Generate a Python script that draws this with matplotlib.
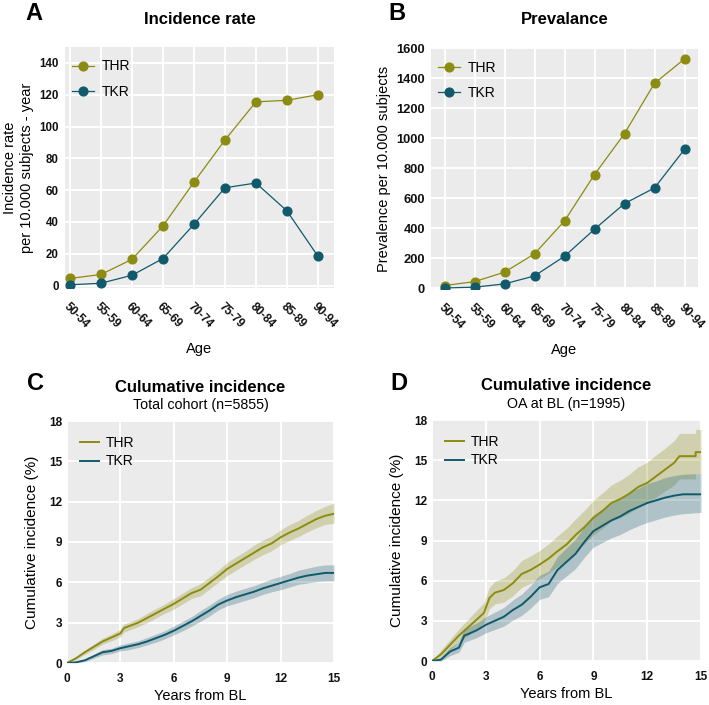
import matplotlib
matplotlib.use("Agg")
import matplotlib.pyplot as plt

plt.rcParams['font.family'] = ['Liberation Sans', 'DejaVu Sans']

# colours
thr_col = '#8c8c12'
tkr_col = '#115a6c'
bg = '#ebebeb'

# panel A / B data
ages = ["50-54", "55-59", "60-64", "65-69", "70-74", "75-79", "80-84", "85-89", "90-94"]
thr_rate = [4.5, 7, 16.5, 37.5, 65, 91.5, 115.5, 116.5, 120]
tkr_rate = [0.5, 1.5, 6.5, 17, 38.5, 61.5, 64.5, 47, 18.5]
thr_prev = [18, 44, 107, 229, 448, 757, 1030, 1365, 1527]
tkr_prev = [2, 7, 29, 82, 213, 393, 564, 668, 925]

# panel C - total cohort
c_thr_years = [0, 0.5, 1, 1.5, 2, 2.5, 3, 3.2, 3.5, 4, 4.5, 5, 5.5, 6, 6.5, 7, 7.5, 8, 8.5, 9,
               9.5, 10, 10.5, 11, 11.5, 12, 12.5, 13, 13.5, 14, 14.5, 15]
c_thr = [0, 0.35, 0.8, 1.2, 1.6, 1.9, 2.2, 2.6, 2.75, 3.0, 3.35, 3.7, 4.05, 4.4, 4.8, 5.2, 5.45, 5.95,
         6.45, 7.0, 7.4, 7.8, 8.2, 8.6, 8.9, 9.35, 9.7, 10.0, 10.35, 10.7, 10.95, 11.1]
c_thr_lo = [0, 0.25, 0.65, 1.0, 1.4, 1.65, 1.95, 2.3, 2.45, 2.7, 3.0, 3.35, 3.7, 4.0, 4.4, 4.8, 5.0, 5.5,
            6.0, 6.5, 6.9, 7.3, 7.7, 8.05, 8.35, 8.8, 9.1, 9.4, 9.75, 10.05, 10.3, 10.4]
c_thr_hi = [0, 0.45, 0.95, 1.4, 1.85, 2.15, 2.5, 2.9, 3.05, 3.3, 3.7, 4.05, 4.4, 4.8, 5.2, 5.6, 5.9, 6.4,
            6.9, 7.5, 7.9, 8.3, 8.75, 9.15, 9.45, 9.9, 10.3, 10.6, 11.0, 11.35, 11.65, 11.9]

c_tkr_years = [0, 0.5, 1, 1.5, 2, 2.5, 3, 3.5, 4, 4.5, 5, 5.5, 6, 6.5, 7, 7.5, 8, 8.5, 9,
               9.5, 10, 10.5, 11, 11.5, 12, 12.5, 13, 13.5, 14, 14.5, 15]
c_tkr = [0, 0.05, 0.2, 0.5, 0.8, 0.9, 1.1, 1.25, 1.4, 1.6, 1.85, 2.1, 2.4, 2.75, 3.1, 3.5, 3.9, 4.35,
         4.65, 4.9, 5.1, 5.3, 5.55, 5.75, 5.95, 6.15, 6.35, 6.5, 6.6, 6.7, 6.7]
c_tkr_lo = [0, 0.0, 0.1, 0.35, 0.6, 0.7, 0.9, 1.0, 1.15, 1.35, 1.55, 1.8, 2.1, 2.4, 2.75, 3.1, 3.5, 3.95,
            4.25, 4.45, 4.65, 4.85, 5.1, 5.3, 5.45, 5.65, 5.85, 5.95, 6.05, 6.1, 6.1]
c_tkr_hi = [0, 0.1, 0.3, 0.65, 1.0, 1.1, 1.35, 1.5, 1.65, 1.9, 2.15, 2.4, 2.75, 3.1, 3.45, 3.9, 4.3, 4.75,
            5.1, 5.35, 5.55, 5.75, 6.0, 6.25, 6.45, 6.65, 6.9, 7.05, 7.2, 7.3, 7.3]

# panel D - OA at baseline
d_thr_years = [0, 0.5, 1, 1.5, 2, 2.5, 2.9, 3.2, 3.5, 4, 4.5, 5, 5.5, 6, 6.5, 7, 7.5, 8, 8.5, 9,
               9.5, 10, 10.5, 11, 11.5, 12, 12.5, 13, 13.5, 13.8, 14.7, 14.7, 15]
d_thr = [0, 0.5, 1.2, 1.9, 2.5, 3.1, 3.6, 4.7, 5.1, 5.3, 5.8, 6.5, 6.8, 7.2, 7.65, 8.2, 8.7, 9.4,
         10.0, 10.7, 11.2, 11.8, 12.1, 12.5, 13.0, 13.3, 13.8, 14.3, 14.8, 15.3, 15.3, 15.6, 15.6]
d_thr_lo = [0, 0.2, 0.8, 1.4, 1.9, 2.4, 2.85, 3.9, 4.25, 4.4, 4.85, 5.5, 5.8, 6.15, 6.55, 7.05, 7.5, 8.2,
            8.75, 9.4, 9.9, 10.45, 10.7, 11.05, 11.5, 11.8, 12.25, 12.7, 13.15, 13.6, 13.6, 14.0, 14.0]
d_thr_hi = [0, 0.8, 1.6, 2.4, 3.1, 3.8, 4.35, 5.5, 5.95, 6.2, 6.75, 7.5, 7.85, 8.25, 8.75, 9.35, 9.9, 10.6,
            11.25, 12.0, 12.55, 13.15, 13.5, 13.95, 14.5, 14.85, 15.4, 15.9, 16.45, 17.0, 17.0, 17.3, 17.3]

d_tkr_years = [0, 0.5, 1, 1.5, 1.8, 2, 2.5, 3, 3.5, 4, 4.5, 5, 5.5, 6, 6.5, 7, 7.5, 8, 8.5, 9,
               9.5, 10, 10.5, 11, 11.5, 12, 12.5, 13, 13.5, 14, 15]
d_tkr = [0, 0.1, 0.7, 1.0, 1.9, 2.0, 2.3, 2.7, 3.0, 3.3, 3.8, 4.2, 4.8, 5.5, 5.75, 6.8, 7.4, 8.0, 8.9,
         9.7, 10.1, 10.5, 10.8, 11.2, 11.5, 11.8, 12.0, 12.2, 12.35, 12.45, 12.45]
d_tkr_lo = [0, 0.0, 0.4, 0.65, 1.4, 1.5, 1.75, 2.1, 2.35, 2.6, 3.05, 3.4, 3.95, 4.6, 4.8, 5.8, 6.35, 6.9,
            7.75, 8.5, 8.85, 9.2, 9.45, 9.8, 10.1, 10.35, 10.55, 10.75, 10.9, 11.0, 11.1]
d_tkr_hi = [0, 0.25, 1.0, 1.4, 2.4, 2.5, 2.85, 3.3, 3.65, 4.0, 4.55, 5.0, 5.65, 6.4, 6.7, 7.8, 8.45, 9.1,
            10.05, 10.9, 11.35, 11.8, 12.15, 12.6, 12.9, 13.25, 13.45, 13.7, 13.85, 13.95, 14.0]

fig = plt.figure(figsize=(7.09, 7.05), dpi=100)
W, H = 709.0, 705.0


def make_axes(left, top, right, bottom):
    ax = fig.add_axes([left / W, 1 - bottom / H, (right - left) / W, (bottom - top) / H])
    ax.set_facecolor(bg)
    ax.grid(True, color='white', linewidth=1.4)
    ax.set_axisbelow(True)
    for s in ax.spines.values():
        s.set_visible(False)
    ax.tick_params(length=0, labelsize=8.5, pad=4)
    return ax


def bold_ticks(ax):
    for lab in ax.get_xticklabels() + ax.get_yticklabels():
        lab.set_fontweight('bold')
        lab.set_color('#111111')


def age_panel(ax, thr, tkr, ylim, yticks, ylabel, ysize):
    x = range(len(ages))
    ax.plot(x, thr, color=thr_col, lw=0.9, marker='o', ms=6.3, label='THR')
    ax.plot(x, tkr, color=tkr_col, lw=0.9, marker='o', ms=6.3, label='TKR')
    ax.set_xticks(list(x))
    ax.set_xticklabels(ages, rotation=-45, ha='left', va='top', rotation_mode='anchor')
    ax.tick_params(axis='x', pad=9)
    ax.tick_params(axis='y', labelsize=ysize, pad=4.5)
    ax.set_yticks(yticks)
    ax.set_ylim(*ylim)
    ax.set_xlabel('Age', fontsize=10.5, labelpad=8)
    ax.set_ylabel(ylabel, fontsize=10.5, labelpad=4)
    bold_ticks(ax)
    ax.legend(loc='upper left', bbox_to_anchor=(-0.02, 1.0), frameon=False, fontsize=10,
              handlelength=1.6, labelspacing=0.85, borderaxespad=0.5, handletextpad=0.5)


def cum_panel(ax, curves, ylabel):
    for yrs, y, lo, hi, col, lab in curves:
        ax.fill_between(yrs, lo, hi, color=col, alpha=0.28, lw=0)
        ax.plot(yrs, y, color=col, lw=1.4, label=lab)
    ax.set_xlim(0, 15)
    ax.set_ylim(0, 18)
    ax.set_xticks([0, 3, 6, 9, 12, 15])
    ax.set_yticks([0, 3, 6, 9, 12, 15, 18])
    ax.tick_params(axis='x', pad=7)
    ax.tick_params(axis='y', pad=3.5)
    ax.set_xlabel('Years from BL', fontsize=10.5, labelpad=3)
    ax.set_ylabel(ylabel, fontsize=11, labelpad=7)
    bold_ticks(ax)
    ax.legend(loc='upper left', bbox_to_anchor=(-0.01, 1.0), frameon=False, fontsize=10,
              handlelength=1.4, labelspacing=0.3, borderaxespad=0.7, handletextpad=0.5)


# A
axA = make_axes(65, 47, 334, 288)
age_panel(axA, thr_rate, tkr_rate, (-1.5, 150), [0, 20, 40, 60, 80, 100, 120, 140],
          'Incidence rate\nper 10.000 subjects - year', 8.3)
axA.set_xlim(-0.16, 8.52)

# B
axB = make_axes(431, 48, 698, 289)
age_panel(axB, thr_prev, tkr_prev, (-5, 1600), [0, 200, 400, 600, 800, 1000, 1200, 1400, 1600],
          'Prevalence per 10.000 subjects', 9.3)
axB.set_xlim(-0.45, 8.45)

# C
axC = make_axes(67, 421, 334, 663)
cum_panel(axC, [(c_thr_years, c_thr, c_thr_lo, c_thr_hi, thr_col, 'THR'),
                (c_tkr_years, c_tkr, c_tkr_lo, c_tkr_hi, tkr_col, 'TKR')],
          'Cumulative incidence (%)')

# D
axD = make_axes(432, 420, 701, 661)
cum_panel(axD, [(d_thr_years, d_thr, d_thr_lo, d_thr_hi, thr_col, 'THR'),
                (d_tkr_years, d_tkr, d_tkr_lo, d_tkr_hi, tkr_col, 'TKR')],
          'Cumulative incidence (%)')

# titles and panel letters
fig.text(199.5 / W, 1 - 20 / H, 'Incidence rate', ha='center', va='center', fontsize=12, fontweight='bold')
fig.text(564.5 / W, 1 - 20 / H, 'Prevalance', ha='center', va='center', fontsize=12, fontweight='bold')
fig.text(200.5 / W, 1 - 387 / H, 'Culumative incidence', ha='center', va='center', fontsize=12, fontweight='bold')
fig.text(200.5 / W, 1 - 405 / H, 'Total cohort (n=5855)', ha='center', va='center', fontsize=10.3)
fig.text(566.5 / W, 1 - 385 / H, 'Cumulative incidence', ha='center', va='center', fontsize=12, fontweight='bold')
fig.text(566.5 / W, 1 - 404 / H, 'OA at BL (n=1995)', ha='center', va='center', fontsize=10.3)

for letter, x, y in [('A', 34, 13), ('B', 397, 13), ('C', 35, 383), ('D', 399, 383)]:
    fig.text(x / W, 1 - y / H, letter, ha='center', va='center', fontsize=17, fontweight='bold')

fig.savefig('out.png', dpi=100)
